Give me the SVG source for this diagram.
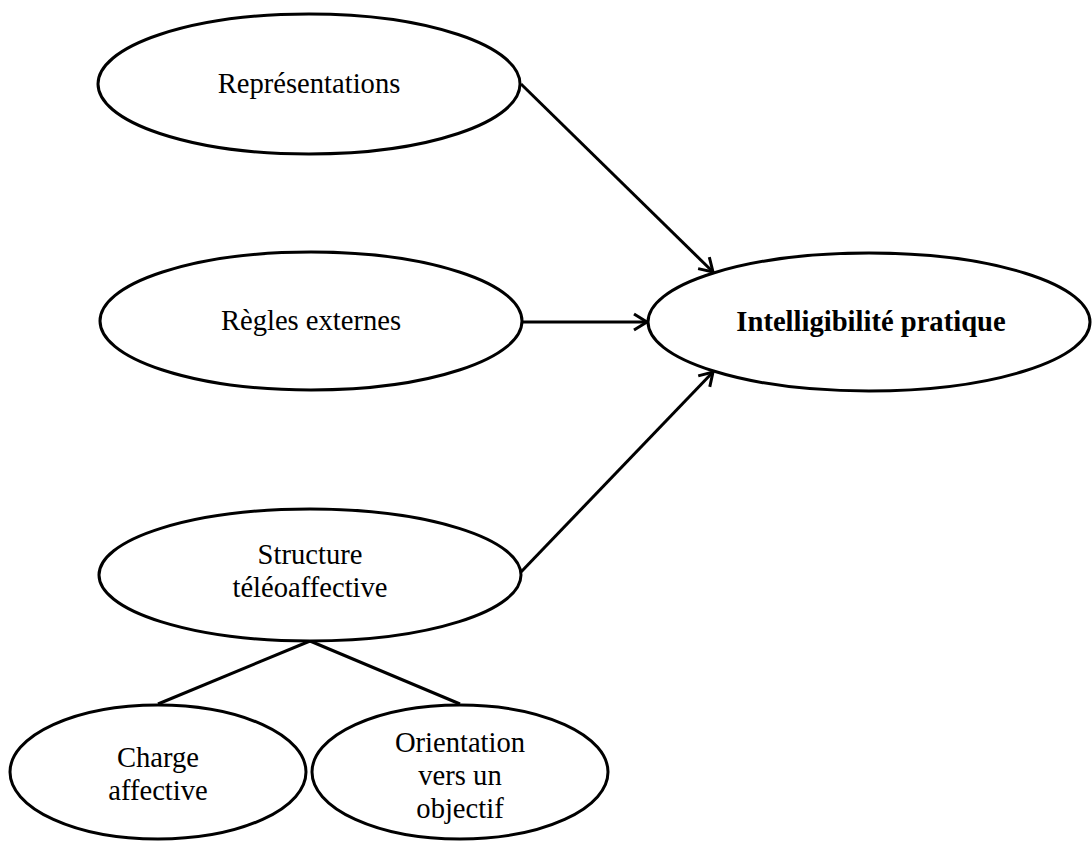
<svg xmlns="http://www.w3.org/2000/svg" width="1092" height="841" viewBox="0 0 1092 841">
<style>
.n ellipse{fill:#fff;stroke:#000;stroke-width:3}
.n text{font-family:"Liberation Serif","Times New Roman",serif;font-size:28.6px;fill:#000;text-anchor:middle}
.b{font-weight:bold}
.c line{stroke:#000;stroke-width:3}
</style>
<defs>
<marker id="ar" markerWidth="20" markerHeight="20" refX="16" refY="10" orient="auto" markerUnits="userSpaceOnUse">
<path d="M3,2 L16,10 L3,18" fill="none" stroke="#000" stroke-width="3"/>
</marker>
</defs>
<g class="c">
<line x1="521" y1="84" x2="713" y2="272" marker-end="url(#ar)"/>
<line x1="522" y1="322" x2="647" y2="322" marker-end="url(#ar)"/>
<line x1="521" y1="572" x2="713" y2="372" marker-end="url(#ar)"/>
<line x1="310" y1="641" x2="158" y2="704"/>
<line x1="310" y1="641" x2="460" y2="704"/>
</g>
<g id="n1" class="n"><ellipse cx="309" cy="84" rx="211" ry="70"/><text x="309" y="93">Représentations</text></g>
<g id="n2" class="n"><ellipse cx="311" cy="321" rx="211" ry="69"/><text x="311" y="330">Règles externes</text></g>
<g id="n3" class="n"><ellipse cx="869" cy="322" rx="221" ry="69"/><text class="b" x="871" y="331">Intelligibilité pratique</text></g>
<g id="n4" class="n"><ellipse cx="310" cy="575" rx="211" ry="66"/><text x="310" y="564">Structure</text><text x="310" y="597">téléoaffective</text></g>
<g id="n5" class="n"><ellipse cx="158" cy="772" rx="148" ry="67"/><text x="158" y="767">Charge</text><text x="158" y="800">affective</text></g>
<g id="n6" class="n"><ellipse cx="460" cy="772" rx="148" ry="67"/><text x="460" y="752">Orientation</text><text x="460" y="785">vers un</text><text x="460" y="818">objectif</text></g>
</svg>
